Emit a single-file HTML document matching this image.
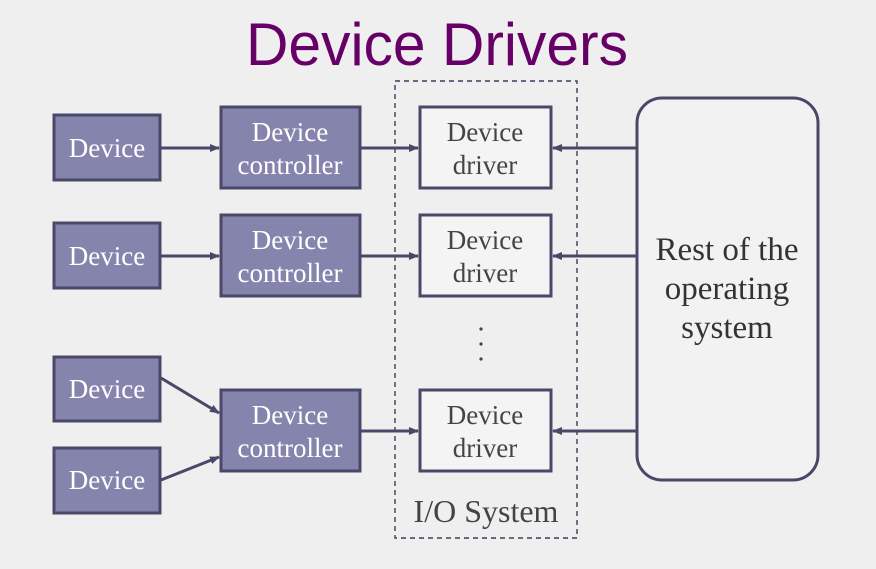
<!DOCTYPE html>
<html><head><meta charset="utf-8"><style>
html,body{margin:0;padding:0;background:#efefef;}
svg{display:block;}
text{font-family:"Liberation Serif",serif;}
</style></head><body>
<svg width="876" height="569" viewBox="0 0 876 569" xmlns="http://www.w3.org/2000/svg">
<defs>
<marker id="a" markerWidth="10" markerHeight="10" refX="9" refY="5" orient="auto" markerUnits="userSpaceOnUse">
<path d="M0,1 L10,5 L0,9 Z" fill="#4a4868"/></marker>
</defs>
<rect width="876" height="569" fill="#efefef"/>
<text x="246" y="65" style="font-family:'Liberation Sans',sans-serif" font-size="60" fill="#660066" textLength="382" lengthAdjust="spacingAndGlyphs">Device Drivers</text>
<rect x="395" y="81" width="182" height="457" fill="none" stroke="#3e3c58" stroke-width="1.4" stroke-dasharray="5,4"/>
<rect x="637" y="98" width="181" height="382" rx="25" fill="#f2f2f2" stroke="#4a4868" stroke-width="3"/>
<text x="727" y="260" font-size="33" fill="#333" text-anchor="middle">Rest of the</text>
<text x="727" y="299" font-size="33" fill="#333" text-anchor="middle">operating</text>
<text x="727" y="338" font-size="33" fill="#333" text-anchor="middle">system</text>
<g fill="#8584ac" stroke="#4a4868" stroke-width="3">
<rect x="54" y="115" width="106" height="65"/>
<rect x="54" y="223" width="106" height="65"/>
<rect x="54" y="357" width="106" height="64"/>
<rect x="54" y="448" width="106" height="65"/>
<rect x="221" y="107" width="139" height="81"/>
<rect x="221" y="215" width="139" height="81"/>
<rect x="221" y="390" width="139" height="81"/>
</g>
<g fill="#f4f4f4" stroke="#4a4868" stroke-width="3">
<rect x="420" y="107" width="131" height="81"/>
<rect x="420" y="215" width="131" height="81"/>
<rect x="420" y="390" width="131" height="81"/>
</g>
<g fill="#fff" font-size="27" text-anchor="middle">
<text x="107" y="157">Device</text>
<text x="107" y="265">Device</text>
<text x="107" y="398">Device</text>
<text x="107" y="489">Device</text>
<text x="290" y="141">Device</text><text x="290" y="174">controller</text>
<text x="290" y="249">Device</text><text x="290" y="282">controller</text>
<text x="290" y="424">Device</text><text x="290" y="457">controller</text>
</g>
<g fill="#444" font-size="27" text-anchor="middle">
<text x="485" y="141">Device</text><text x="485" y="174">driver</text>
<text x="485" y="249">Device</text><text x="485" y="282">driver</text>
<text x="485" y="424">Device</text><text x="485" y="457">driver</text>
<text x="486" y="522" font-size="32">I/O System</text>
</g>
<g fill="#444"><circle cx="481" cy="329" r="1.6"/><circle cx="481" cy="344" r="1.6"/><circle cx="481" cy="359" r="1.6"/></g>
<g stroke="#4a4868" stroke-width="3" marker-end="url(#a)">
<line x1="161" y1="148" x2="219" y2="148"/>
<line x1="161" y1="256" x2="219" y2="256"/>
<line x1="161" y1="378" x2="219" y2="413"/>
<line x1="161" y1="480" x2="219" y2="457"/>
<line x1="361" y1="148" x2="418" y2="148"/>
<line x1="361" y1="256" x2="418" y2="256"/>
<line x1="361" y1="431" x2="418" y2="431"/>
<line x1="636" y1="148" x2="553" y2="148"/>
<line x1="636" y1="256" x2="553" y2="256"/>
<line x1="636" y1="431" x2="553" y2="431"/>
</g>
</svg>
</body></html>
